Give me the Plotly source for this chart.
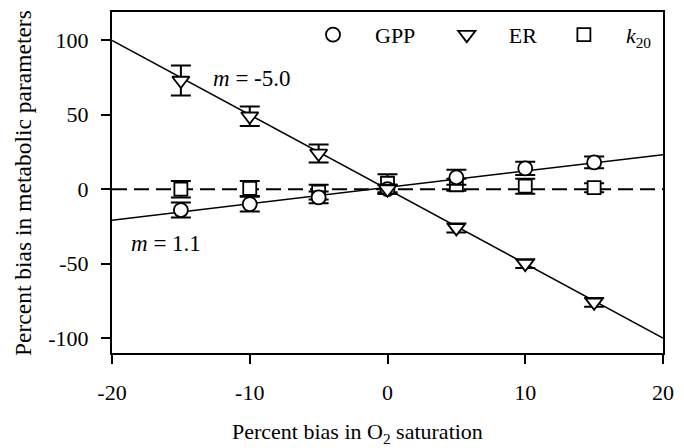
import plotly.graph_objects as go

# ---- data ----
X = [-15, -10, -5, 0, 5, 10, 15]
GPP = [-14, -10, -5.5, 0, 8, 14, 18]
GPP_ERR = [5, 5, 4, 3, 5, 4.5, 4]
ER = [73, 49, 24, 0, -26, -50, -76]
ER_ERR = [10, 6.5, 6, 3, 3, 3, 3]
K20 = [0, 0.5, -2, 4, 3, 2, 1]
K20_ERR = [5.5, 5, 5, 6, 4, 5, 3]

FIT_X = [-20, 20]
GPP_FIT = [-20.8, 23.2]
ER_FIT = [100, -100]
ZERO = [0, 0]

X_TICKS = [-20, -10, 0, 10, 20]
Y_TICKS = [-100, -50, 0, 50, 100]

FONT = "Liberation Serif, Times New Roman, serif"
FS = 22
NB = "\u00a0"

# plot area in pixels (for placing paper-referenced text)
L, R, T, B = 112, 663, 10, 353


def px(xp):
    return (xp - L) / (R - L)


def py(yp):
    return (B - yp) / (B - T)


fig = go.Figure()

# fit lines
fig.add_trace(go.Scatter(x=FIT_X, y=ZERO, mode="lines", showlegend=False,
                         line=dict(color="black", width=2, dash="15px,7px")))
fig.add_trace(go.Scatter(x=FIT_X, y=GPP_FIT, mode="lines", showlegend=False,
                         line=dict(color="black", width=1.5)))
fig.add_trace(go.Scatter(x=FIT_X, y=ER_FIT, mode="lines", showlegend=False,
                         line=dict(color="black", width=1.5)))


def pts(y, err, sym, size, name, legendrank):
    return go.Scatter(
        x=X, y=y, mode="markers", name=name, legendrank=legendrank,
        marker=dict(symbol=sym, size=size, color="white",
                    line=dict(color="black", width=1.8)),
        error_y=dict(type="data", array=err, visible=True, color="black",
                     thickness=2, width=10),
    )


fig.add_trace(pts(K20, K20_ERR, "square", 13,
                  NB * 4 + "<i>k</i><sub>20</sub>", 3))
fig.add_trace(pts(GPP, GPP_ERR, "circle", 14,
                  NB * 4 + "GPP" + NB * 4 + "\u2009", 1))
fig.add_trace(pts(ER, ER_ERR, "triangle-down", 15,
                  NB * 4 + "ER" + NB * 4, 2))

fig.update_layout(
    width=684, height=448,
    margin=dict(l=L, r=684 - R, t=T, b=448 - B),
    paper_bgcolor="white", plot_bgcolor="white",
    font=dict(family=FONT, size=FS, color="black"),
    showlegend=True,
    legend=dict(orientation="h", x=px(313), y=py(33), xanchor="left", yanchor="middle",
                bgcolor="rgba(0,0,0,0)", font=dict(size=FS, family=FONT),
                borderwidth=0),
    xaxis=dict(range=[-20, 20], tickvals=X_TICKS, ticktext=[str(v) for v in X_TICKS],
               showgrid=False, zeroline=False, showline=True, linecolor="black",
               linewidth=2, mirror=True, ticks="outside", ticklen=9, tickwidth=2,
               tickcolor="black", tickfont=dict(size=FS, family=FONT),
               ticklabelstandoff=10),
    yaxis=dict(range=[-110, 119], tickvals=Y_TICKS, ticktext=[str(v) for v in Y_TICKS],
               showgrid=False, zeroline=False, showline=True, linecolor="black",
               linewidth=2, mirror=True, ticks="outside", ticklen=9, tickwidth=2,
               tickcolor="black", tickfont=dict(size=FS, family=FONT),
               ticklabelstandoff=8),
)

fig.add_annotation(x=-9.83, y=74.5, xref="x", yref="y", showarrow=False,
                   text="<i>m</i> = -5.0", font=dict(size=23, family=FONT))
fig.add_annotation(x=-16.07, y=-36.5, xref="x", yref="y", showarrow=False,
                   text="<i>m</i> = 1.1", font=dict(size=23, family=FONT))

fig.add_annotation(x=px(357), y=py(433), xref="paper", yref="paper",
                   showarrow=False, xanchor="center", yanchor="middle",
                   text="Percent bias in O<sub>2</sub> saturation",
                   font=dict(size=FS, family=FONT))
fig.add_annotation(x=px(23), y=py(182), xref="paper", yref="paper",
                   showarrow=False, xanchor="center", yanchor="middle", textangle=-90,
                   text="Percent bias in metabolic parameters",
                   font=dict(size=23.5, family=FONT))

fig.write_html("out.html")
